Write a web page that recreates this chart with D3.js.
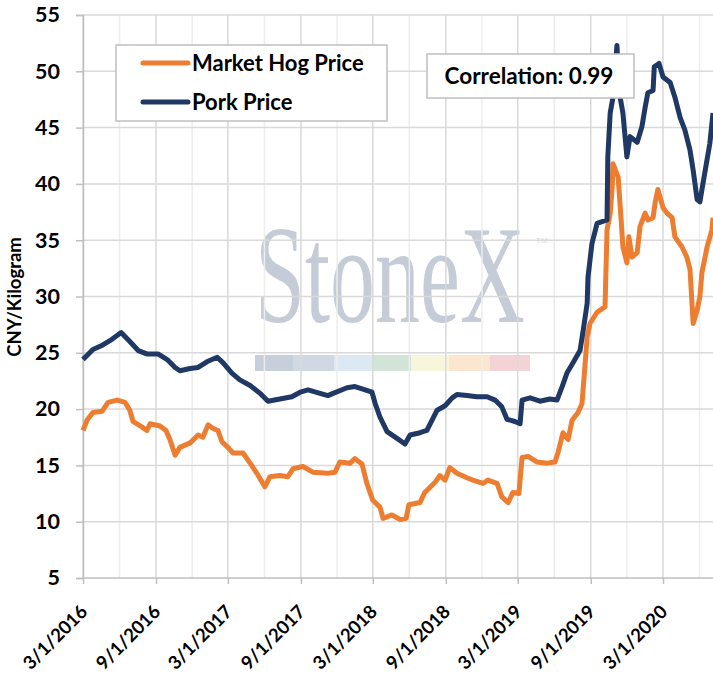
<!DOCTYPE html>
<html lang="en">
<head>
<meta charset="utf-8">
<script src="https://cdnjs.cloudflare.com/ajax/libs/d3/7.8.5/d3.min.js"></script>
<style>
  body { margin: 0; background: #fff; }
  svg { display: block; font-family: Lato, "Open Sans", sans-serif; font-weight: bold; }
</style>
</head>
<body>
<div id="chart"></div>
<script>
// market hog price, CNY/kg
var hogSeries = [
  ["2016-03-01",18.1],["2016-03-11",19.0],["2016-03-26",19.7],["2016-04-18",19.8],["2016-05-03",20.6],
  ["2016-05-26",20.8],["2016-06-15",20.6],["2016-06-27",19.9],["2016-07-05",18.9],["2016-07-28",18.4],
  ["2016-08-09",18.1],["2016-08-17",18.7],["2016-09-11",18.5],["2016-09-26",18.1],["2016-10-06",17.3],
  ["2016-10-19",15.9],["2016-10-31",16.6],["2016-11-26",17.0],["2016-12-16",17.7],["2016-12-28",17.5],
  ["2017-01-10",18.6],["2017-01-22",18.3],["2017-02-04",18.1],["2017-02-14",17.1],["2017-03-01",16.6],
  ["2017-03-14",16.1],["2017-04-08",16.1],["2017-04-26",15.2],["2017-05-13",14.3],["2017-06-02",13.1],
  ["2017-06-15",14.0],["2017-07-10",14.1],["2017-07-30",14.0],["2017-08-12",14.7],["2017-09-06",14.9],
  ["2017-10-01",14.4],["2017-11-08",14.3],["2017-11-26",14.4],["2017-12-08",15.3],["2018-01-03",15.2],
  ["2018-01-15",15.6],["2018-02-02",15.1],["2018-02-14",13.4],["2018-03-01",11.9],["2018-03-19",11.3],
  ["2018-03-27",10.3],["2018-04-18",10.6],["2018-05-09",10.2],["2018-05-24",10.3],["2018-05-31",11.5],
  ["2018-06-28",11.7],["2018-07-10",12.6],["2018-08-05",13.5],["2018-08-17",14.1],["2018-08-30",13.7],
  ["2018-09-11",14.8],["2018-09-29",14.3],["2018-10-24",13.9],["2018-11-08",13.7],["2018-12-04",13.4],
  ["2018-12-16",13.7],["2019-01-08",13.4],["2019-01-20",12.2],["2019-02-05",11.7],["2019-02-17",12.6],
  ["2019-03-04",12.5],["2019-03-12",15.7],["2019-03-27",15.8],["2019-04-19",15.3],["2019-05-14",15.2],
  ["2019-06-03",15.3],["2019-06-11",16.2],["2019-06-23",17.9],["2019-07-06",17.3],["2019-07-16",19.0],
  ["2019-07-31",19.7],["2019-08-10",20.5],["2019-08-18",24.1],["2019-08-23",26.4],["2019-08-30",27.6],
  ["2019-09-17",28.6],["2019-10-07",29.1],["2019-10-12",35.9],["2019-10-20",37.4],["2019-10-25",39.7],
  ["2019-10-27",41.8],["2019-11-09",40.6],["2019-11-16",37.1],["2019-11-21",34.4],["2019-12-01",33.0],
  ["2019-12-06",35.3],["2019-12-14",33.5],["2019-12-27",33.9],["2020-01-03",36.2],["2020-01-16",37.4],
  ["2020-01-23",36.8],["2020-02-05",37.0],["2020-02-10",38.3],["2020-02-17",39.5],["2020-03-01",37.9],
  ["2020-03-11",37.4],["2020-03-24",37.0],["2020-03-31",35.3],["2020-04-18",34.4],["2020-04-30",33.5],
  ["2020-05-08",32.4],["2020-05-16",27.6],["2020-05-26",28.8],["2020-06-02",30.0],["2020-06-07",32.1],
  ["2020-06-20",34.4],["2020-07-02",35.9],["2020-07-05",37.0]
];

// pork price, CNY/kg
var porkSeries = [
  ["2016-03-01",24.4],["2016-03-26",25.3],["2016-04-20",25.7],["2016-05-13",26.2],["2016-06-05",26.8],
  ["2016-06-27",26.0],["2016-07-18",25.2],["2016-08-09",24.9],["2016-09-06",24.9],["2016-09-29",24.4],
  ["2016-10-19",23.7],["2016-10-31",23.4],["2016-11-26",23.6],["2016-12-16",23.7],["2017-01-07",24.2],
  ["2017-02-02",24.6],["2017-02-17",24.1],["2017-03-11",23.2],["2017-03-31",22.6],["2017-04-26",22.1],
  ["2017-05-21",21.4],["2017-06-10",20.7],["2017-07-10",20.9],["2017-08-09",21.1],["2017-08-30",21.5],
  ["2017-09-19",21.7],["2017-10-19",21.4],["2017-11-08",21.2],["2017-11-21",21.4],["2017-12-26",21.9],
  ["2018-01-15",22.0],["2018-02-02",21.8],["2018-02-27",21.5],["2018-03-07",20.5],["2018-03-19",19.3],
  ["2018-04-06",18.0],["2018-05-01",17.4],["2018-05-21",16.9],["2018-06-03",17.7],["2018-06-28",17.9],
  ["2018-07-15",18.1],["2018-07-28",19.0],["2018-08-10",19.9],["2018-08-30",20.3],["2018-09-17",21.0],
  ["2018-09-29",21.3],["2018-10-24",21.2],["2018-11-18",21.1],["2018-12-14",21.1],["2019-01-03",20.8],
  ["2019-01-20",20.2],["2019-02-02",19.1],["2019-02-22",18.9],["2019-03-07",18.7],["2019-03-12",20.8],
  ["2019-04-01",21.0],["2019-04-26",20.7],["2019-05-21",20.9],["2019-06-08",20.8],["2019-06-21",22.0],
  ["2019-07-03",23.2],["2019-07-18",24.1],["2019-08-05",25.2],["2019-08-13",27.0],["2019-08-23",29.4],
  ["2019-08-25",31.7],["2019-09-04",34.7],["2019-09-17",36.5],["2019-10-12",36.8],["2019-10-14",42.4],
  ["2019-10-20",46.3],["2019-10-27",47.7],["2019-11-06",52.3],["2019-11-11",48.3],["2019-11-21",46.3],
  ["2019-12-01",42.4],["2019-12-09",44.2],["2019-12-27",43.7],["2020-01-08",45.1],["2020-01-16",46.8],
  ["2020-01-23",48.1],["2020-02-05",48.3],["2020-02-08",50.4],["2020-02-20",50.7],["2020-03-01",49.5],
  ["2020-03-19",49.0],["2020-03-31",47.7],["2020-04-13",45.9],["2020-04-25",44.8],["2020-05-08",43.0],
  ["2020-05-16",41.2],["2020-05-26",38.6],["2020-06-02",38.4],["2020-06-10",40.1],["2020-06-27",43.6],
  ["2020-07-05",46.3]
];

var yTicks = [5, 10, 15, 20, 25, 30, 35, 40, 45, 50, 55];
var xTickLabels = ["3/1/2016", "9/1/2016", "3/1/2017", "9/1/2017", "3/1/2018",
                   "9/1/2018", "3/1/2019", "9/1/2019", "3/1/2020"];
var seriesNames = ["Market Hog Price", "Pork Price"];
var correlationText = "Correlation: 0.99";

var W = 713, H = 683;
var parseDay = d3.timeParse("%Y-%m-%d");
var parseLabel = d3.timeParse("%m/%d/%Y");

var hog = hogSeries.map(function(d){ return {date: parseDay(d[0]), value: d[1]}; });
var pork = porkSeries.map(function(d){ return {date: parseDay(d[0]), value: d[1]}; });
var xTickDates = xTickLabels.map(function(s){ return parseLabel(s); });

var x = d3.scaleTime()
  .domain([parseDay("2016-03-01"), parseDay("2020-03-01")])
  .range([83, 663]);
var y = d3.scaleLinear().domain([5, 55]).range([578, 15]);
var plotRight = W;

var svg = d3.select("#chart").append("svg")
  .attr("width", W)
  .attr("height", H);

// watermark, squeezed horizontally to the logo width
var wm = svg.append("g").attr("class", "watermark");
var wmText = wm.append("text")
  .attr("x", 0).attr("y", 0)
  .style("font-family", "'Liberation Serif', 'DejaVu Serif', serif")
  .style("font-weight", "normal")
  .style("font-size", "140px")
  .style("fill", "#c5ccd7")
  .text("StoneX");
var wmScale = 270 / wmText.node().getComputedTextLength();
wmText.attr("transform", "translate(255,322) scale(" + wmScale + ",1)");
wm.append("text")
  .attr("x", 536).attr("y", 243)
  .style("font-family", "'Liberation Sans', sans-serif")
  .style("font-weight", "normal")
  .style("font-size", "8px")
  .style("fill", "#d4d8de")
  .text("TM");
var bandColors = ["#c7cfdb", "#cfd8e3", "#dce8f3", "#d2e3d8", "#f7f5da", "#fbe7cf", "#f3d3d6"];
var bandEdges = [255, 293, 334, 372, 411, 449, 490, 530];
wm.selectAll("rect.band")
  .data(bandColors)
  .enter().append("rect")
  .attr("class", "band")
  .attr("x", function(d, i){ return bandEdges[i]; })
  .attr("y", 355)
  .attr("width", function(d, i){ return bandEdges[i + 1] - bandEdges[i]; })
  .attr("height", 16)
  .attr("fill", function(d){ return d; });

// grid
var quarters = d3.range(0, 18).map(function(i){
  return d3.timeMonth.offset(parseDay("2016-03-01"), i * 3);
}).filter(function(d){ return x(d) <= plotRight; });

svg.append("g").selectAll("line")
  .data(quarters)
  .enter().append("line")
  .attr("x1", function(d){ return x(d); })
  .attr("x2", function(d){ return x(d); })
  .attr("y1", y(55)).attr("y2", y(5))
  .attr("stroke", function(d, i){ return i % 2 === 0 ? "#d9d9d9" : "#ededed"; })
  .attr("stroke-width", 1.5);

svg.append("g").selectAll("line")
  .data(yTicks.slice(1))
  .enter().append("line")
  .attr("x1", 83).attr("x2", plotRight)
  .attr("y1", function(d){ return y(d); })
  .attr("y2", function(d){ return y(d); })
  .attr("stroke", "#d9d9d9")
  .attr("stroke-width", 1.5);

// axes
var yAxis = svg.append("g")
  .attr("transform", "translate(83,0)")
  .call(d3.axisLeft(y).tickValues(yTicks).tickSize(7).tickPadding(16).tickFormat(d3.format("d")));
yAxis.select(".domain").attr("stroke", "#bfbfbf").attr("stroke-width", 1.5);
yAxis.selectAll(".tick line").attr("stroke", "#bfbfbf").attr("stroke-width", 1.5);
yAxis.selectAll(".tick text")
  .style("font-size", "21.5px").style("font-family", "Lato, sans-serif")
  .style("font-weight", "bold").attr("fill", "#000");

var xAxis = svg.append("g")
  .attr("transform", "translate(0,578)")
  .call(d3.axisBottom(x).tickValues(xTickDates).tickSize(6)
    .tickFormat(function(d, i){ return xTickLabels[i]; }));
xAxis.select(".domain").remove();
xAxis.append("line").attr("x1", 83).attr("x2", plotRight)
  .attr("stroke", "#bfbfbf").attr("stroke-width", 1.5);
xAxis.selectAll(".tick line").attr("stroke", "#bfbfbf").attr("stroke-width", 1.5);
xAxis.selectAll(".tick text")
  .attr("text-anchor", "end")
  .attr("x", 0).attr("y", 0).attr("dy", null)
  .attr("transform", "translate(5,35) rotate(-45)")
  .style("font-size", "18.5px").style("font-family", "Lato, sans-serif")
  .style("font-weight", "bold").attr("fill", "#000");

svg.append("text")
  .attr("transform", "translate(21,297) rotate(-90)")
  .attr("text-anchor", "middle")
  .style("font-size", "18.5px")
  .text("CNY/Kilogram");

// lines
var line = d3.line()
  .x(function(d){ return x(d.date); })
  .y(function(d){ return y(d.value); });

svg.append("path").datum(hog)
  .attr("d", line)
  .attr("fill", "none")
  .attr("stroke", "#ed7d31")
  .attr("stroke-width", 5)
  .attr("stroke-linejoin", "round");

svg.append("path").datum(pork)
  .attr("d", line)
  .attr("fill", "none")
  .attr("stroke", "#1f3864")
  .attr("stroke-width", 5)
  .attr("stroke-linejoin", "round");

// legend
var legend = svg.append("g");
legend.append("rect")
  .attr("x", 116).attr("y", 45).attr("width", 271).attr("height", 76)
  .attr("fill", "#fff").attr("stroke", "#bfbfbf").attr("stroke-width", 1.5);
var legendColors = ["#ed7d31", "#1f3864"];
var item = legend.selectAll("g.item")
  .data(seriesNames)
  .enter().append("g")
  .attr("transform", function(d, i){ return "translate(0," + (63 + i * 39) + ")"; });
item.append("line")
  .attr("x1", 143).attr("x2", 188)
  .attr("stroke", function(d, i){ return legendColors[i]; })
  .attr("stroke-width", 5)
  .attr("stroke-linecap", "round");
item.append("text")
  .attr("x", 192).attr("dy", "0.35em")
  .style("font-size", "22px")
  .text(function(d){ return d; });

// correlation box
svg.append("rect")
  .attr("x", 427).attr("y", 54).attr("width", 207).attr("height", 44)
  .attr("fill", "#fff").attr("stroke", "#bfbfbf").attr("stroke-width", 1.5);
svg.append("text")
  .attr("x", 529).attr("y", 76).attr("dy", "0.35em")
  .attr("text-anchor", "middle")
  .style("font-size", "22.5px")
  .text(correlationText);
</script>
</body>
</html>
